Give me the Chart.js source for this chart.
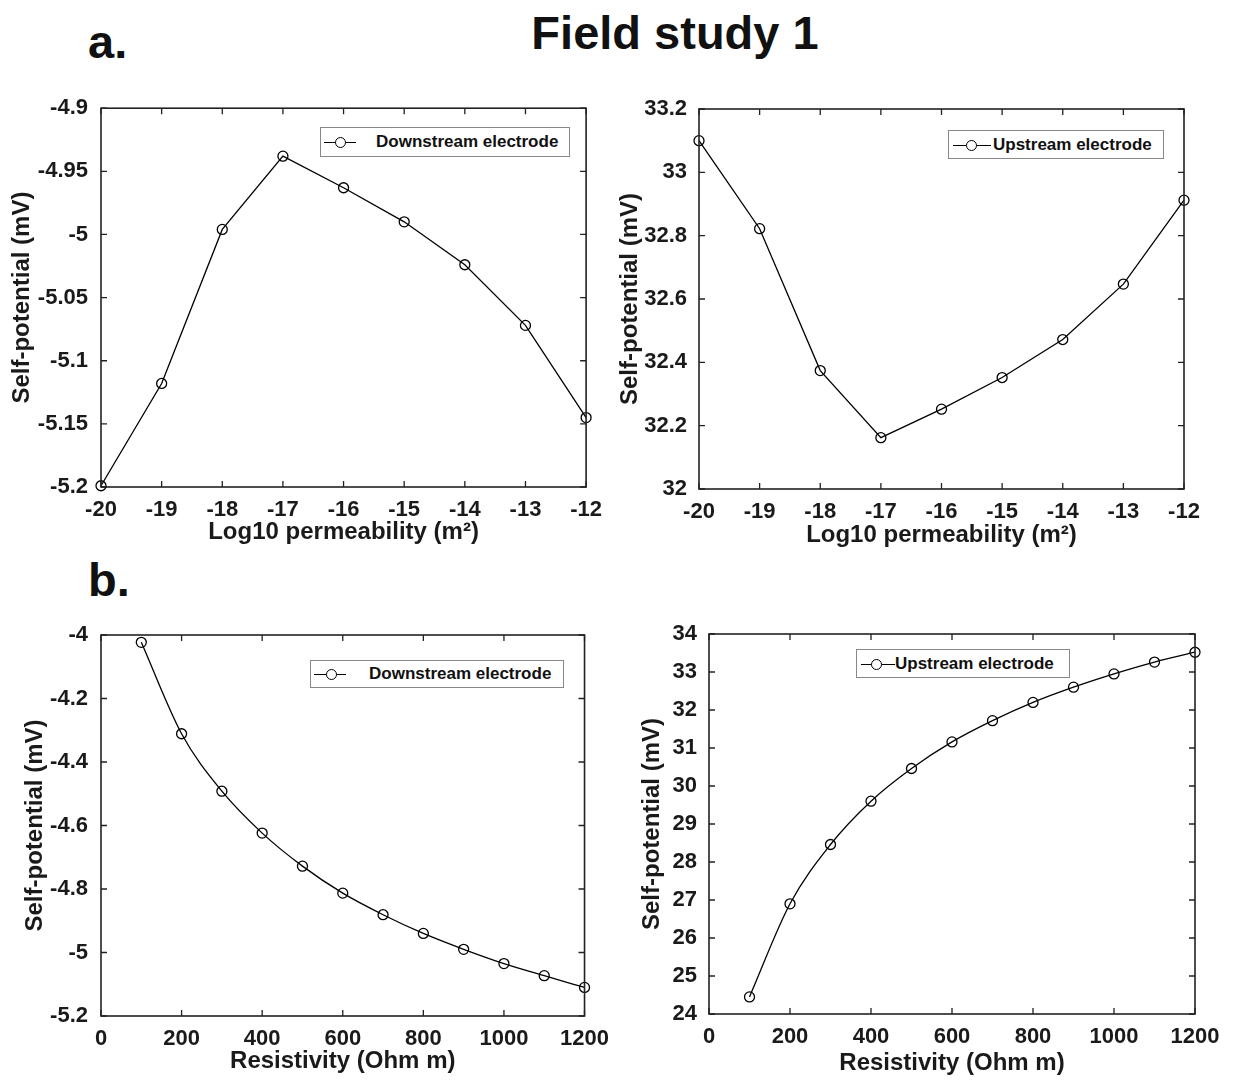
<!DOCTYPE html>
<html lang="en">
<head>
  <meta charset="UTF-8" />
  <title>Field study 1</title>
  <script src="https://cdn.jsdelivr.net/npm/chart.js"></script>
  <style>
    body { margin: 0; background: #fff; font-family: "Liberation Sans", Arial, sans-serif; font-weight: bold; color: #111; }
    #page { position: relative; width: 1234px; height: 1082px; overflow: hidden; }
    .box { position: absolute; }
    .big { position: absolute; font-size: 47px; line-height: 47px; }
    .legend { position: absolute; border: 1px solid #888; background: #fff; font-size: 17px; }
    .legend .line { position: absolute; top: 50%; height: 0; border-top: 1.4px solid #000; }
    .legend .dot { position: absolute; top: 50%; width: 9px; height: 9px; margin-top: -5px; margin-left: -5px; border: 1.3px solid #000; border-radius: 50%; background: #fff; }
    .legend .txt { position: absolute; top: 50%; transform: translateY(-50%); white-space: nowrap; }
  </style>
</head>
<body>
<div id="page">
  <div class="big" style="left:88px;top:18px;">a.</div>
  <div class="big" style="left:0;width:1350px;text-align:center;top:9px;">Field study 1</div>
  <div class="big" style="left:88px;top:556px;">b.</div>

  <div class="box" style="left:0;top:90px;width:604px;height:470px;"><canvas id="c1"></canvas></div>
  <div class="box" style="left:610px;top:90px;width:594px;height:470px;"><canvas id="c2"></canvas></div>
  <div class="box" style="left:0;top:610px;width:611px;height:472px;"><canvas id="c3"></canvas></div>
  <div class="box" style="left:620px;top:610px;width:614px;height:472px;"><canvas id="c4"></canvas></div>

  <div class="legend" style="left:320px;top:127px;width:248px;height:28px;">
    <span class="line" style="left:3px;width:32px;"></span><span class="dot" style="left:19px;"></span>
    <span class="txt" style="left:55px;">Downstream electrode</span>
  </div>
  <div class="legend" style="left:948px;top:130px;width:214px;height:27px;">
    <span class="line" style="left:4px;width:38px;"></span><span class="dot" style="left:22px;"></span>
    <span class="txt" style="left:44px;">Upstream electrode</span>
  </div>
  <div class="legend" style="left:310px;top:660px;width:252px;height:26px;">
    <span class="line" style="left:3px;width:32px;"></span><span class="dot" style="left:20px;"></span>
    <span class="txt" style="left:58px;">Downstream electrode</span>
  </div>
  <div class="legend" style="left:856px;top:649px;width:212px;height:27px;">
    <span class="line" style="left:4px;width:34px;"></span><span class="dot" style="left:19px;"></span>
    <span class="txt" style="left:38px;">Upstream electrode</span>
  </div>
</div>

<script>
  // permeability runs (log10 m^2)
  const permX = [-20, -19, -18, -17, -16, -15, -14, -13, -12];
  const downPerm = [-5.199, -5.118, -4.996, -4.938, -4.963, -4.990, -5.024, -5.072, -5.145];
  const upPerm = [33.10, 32.822, 32.374, 32.162, 32.252, 32.352, 32.472, 32.647, 32.912];

  // resistivity runs (Ohm m)
  const resX = [100, 200, 300, 400, 500, 600, 700, 800, 900, 1000, 1100, 1200];
  const downRes = [-4.023, -4.311, -4.492, -4.624, -4.728, -4.813, -4.881, -4.940, -4.990, -5.035, -5.073, -5.110];
  const upRes = [24.45, 26.90, 28.46, 29.60, 30.46, 31.16, 31.72, 32.20, 32.60, 32.95, 33.26, 33.52];

  // tick labels
  const permTicks = [-20, -19, -18, -17, -16, -15, -14, -13, -12];
  const downPermTicks = [-5.2, -5.15, -5.1, -5.05, -5, -4.95, -4.9];
  const upPermTicks = [32, 32.2, 32.4, 32.6, 32.8, 33, 33.2];
  const resTicks = [0, 200, 400, 600, 800, 1000, 1200];
  const downResTicks = [-5.2, -5, -4.8, -4.6, -4.4, -4.2, -4];
  const upResTicks = [24, 25, 26, 27, 28, 29, 30, 31, 32, 33, 34];

  Chart.defaults.font.family = '"Liberation Sans", Arial, sans-serif';
  Chart.defaults.font.weight = 'bold';
  Chart.defaults.color = '#1a1a1a';

  // MATLAB-like box with ticks pointing inwards on all four sides
  const frame = {
    id: 'frame',
    afterDraw(chart) {
      const { ctx, chartArea: a, scales } = chart;
      const len = 6;
      ctx.save();
      ctx.strokeStyle = '#222';
      ctx.lineWidth = 1.6;
      ctx.strokeRect(a.left, a.top, a.right - a.left, a.bottom - a.top);
      ctx.lineWidth = 1.3;
      ctx.beginPath();
      scales.x.ticks.forEach(t => {
        const px = scales.x.getPixelForValue(t.value);
        ctx.moveTo(px, a.bottom); ctx.lineTo(px, a.bottom - len);
        ctx.moveTo(px, a.top); ctx.lineTo(px, a.top + len);
      });
      scales.y.ticks.forEach(t => {
        const py = scales.y.getPixelForValue(t.value);
        ctx.moveTo(a.left, py); ctx.lineTo(a.left + len, py);
        ctx.moveTo(a.right, py); ctx.lineTo(a.right - len, py);
      });
      ctx.stroke();
      ctx.restore();
    }
  };

  function makeChart(id, cfg) {
    const pts = cfg.xs.map((x, i) => ({ x: x, y: cfg.ys[i] }));
    return new Chart(document.getElementById(id), {
      type: 'scatter',
      data: {
        datasets: [{
          data: pts,
          showLine: true,
          borderColor: '#000',
          borderWidth: 1.3,
          tension: cfg.smooth ? 0.4 : 0,
          cubicInterpolationMode: cfg.smooth ? 'monotone' : 'default',
          pointRadius: 5,
          pointBorderWidth: 1.3,
          pointBorderColor: '#000',
          pointBackgroundColor: 'rgba(0,0,0,0)'
        }]
      },
      options: {
        responsive: false,
        animation: false,
        clip: false,
        layout: { padding: { top: cfg.padTop, right: cfg.padRight, left: 0, bottom: 0 } },
        plugins: { legend: { display: false }, tooltip: { enabled: false } },
        scales: {
          x: {
            type: 'linear',
            min: cfg.xTicks[0],
            max: cfg.xTicks[cfg.xTicks.length - 1],
            grid: { display: false },
            border: { display: false },
            afterBuildTicks: s => { s.ticks = cfg.xTicks.map(v => ({ value: v })); },
            afterFit: s => { s.height = cfg.xH; },
            ticks: { padding: 2, maxRotation: 0, autoSkip: false, font: { size: 22 }, callback: v => String(v) },
            title: { display: true, text: cfg.xTitle, font: { size: 24 }, padding: { top: 0, bottom: cfg.xTitlePad } }
          },
          y: {
            type: 'linear',
            min: cfg.yTicks[0],
            max: cfg.yTicks[cfg.yTicks.length - 1],
            grid: { display: false },
            border: { display: false },
            afterBuildTicks: s => { s.ticks = cfg.yTicks.map(v => ({ value: v })); },
            afterFit: s => { s.width = cfg.yW; },
            ticks: { padding: cfg.yTickPad, autoSkip: false, font: { size: 22 }, callback: v => String(v) },
            title: { display: true, text: 'Self-potential (mV)', font: { size: 24 }, padding: { top: cfg.yTitlePad, bottom: 0 } }
          }
        }
      },
      plugins: [frame]
    });
  }

  function sizeCanvas(id, w, h) {
    const c = document.getElementById(id);
    c.width = w; c.height = h;
    c.style.width = w + 'px'; c.style.height = h + 'px';
  }
  sizeCanvas('c1', 604, 470);
  sizeCanvas('c2', 594, 470);
  sizeCanvas('c3', 611, 472);
  sizeCanvas('c4', 614, 472);

  makeChart('c1', {
    xs: permX, ys: downPerm, xTicks: permTicks, yTicks: downPermTicks,
    xTitle: 'Log10 permeability (m²)', smooth: false,
    padTop: 16, padRight: 15, yW: 101, xH: 73, yTickPad: 5, yTitlePad: 8, xTitlePad: 13
  });
  makeChart('c2', {
    xs: permX, ys: upPerm, xTicks: permTicks, yTicks: upPermTicks,
    xTitle: 'Log10 permeability (m²)', smooth: false,
    padTop: 19, padRight: 20, yW: 89, xH: 71, yTickPad: 4, yTitlePad: 6, xTitlePad: 10
  });
  makeChart('c3', {
    xs: resX, ys: downRes, xTicks: resTicks, yTicks: downResTicks,
    xTitle: 'Resistivity (Ohm m)', smooth: true,
    padTop: 25, padRight: 25, yW: 101, xH: 66, yTickPad: 5, yTitlePad: 21, xTitlePad: 6
  });
  makeChart('c4', {
    xs: resX, ys: upRes, xTicks: resTicks, yTicks: upResTicks,
    xTitle: 'Resistivity (Ohm m)', smooth: true,
    padTop: 24, padRight: 39, yW: 89, xH: 68, yTickPad: 4, yTitlePad: 18, xTitlePad: 4
  });
</script>
</body>
</html>
